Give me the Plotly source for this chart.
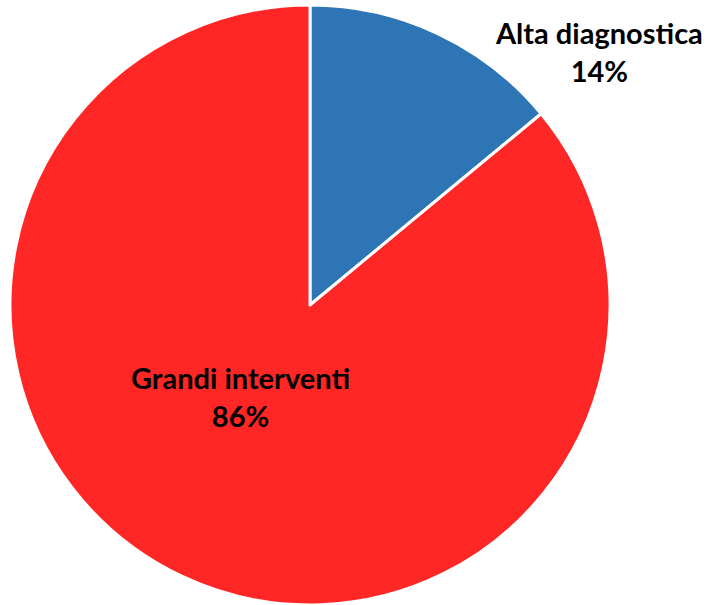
import plotly.graph_objects as go

labels = ["Alta diagnostica", "Grandi interventi"]
values = [14, 86]
colors = ["#2E75B6", "#FF2626"]

W, H = 710, 605

fig = go.Figure(go.Pie(
    labels=labels,
    values=values,
    sort=False,
    direction="clockwise",
    rotation=0,
    marker=dict(colors=colors, line=dict(color="white", width=3)),
    textinfo="none",
    hoverinfo="label+percent",
    showlegend=False,
    domain=dict(x=[10 / W, 610 / W], y=[0, 600 / H]),
))

label_pos = [(599, 52), (240, 397)]
for lab, val, (px, py) in zip(labels, values, label_pos):
    pct = round(100 * val / sum(values))
    fig.add_annotation(
        x=px / W, y=1 - py / H, xref="paper", yref="paper",
        text=f"<b>{lab}<br>{pct}%</b>", showarrow=False,
        font=dict(family="Lato, 'Open Sans', sans-serif", size=29, color="black"),
        align="center", xanchor="center", yanchor="middle",
    )

fig.update_layout(
    width=W, height=H,
    margin=dict(l=0, r=0, t=0, b=0),
    paper_bgcolor="white", plot_bgcolor="white",
)

fig.write_html("out.html", config={"displayModeBar": False},
               post_script="document.body.style.margin='0px';")
